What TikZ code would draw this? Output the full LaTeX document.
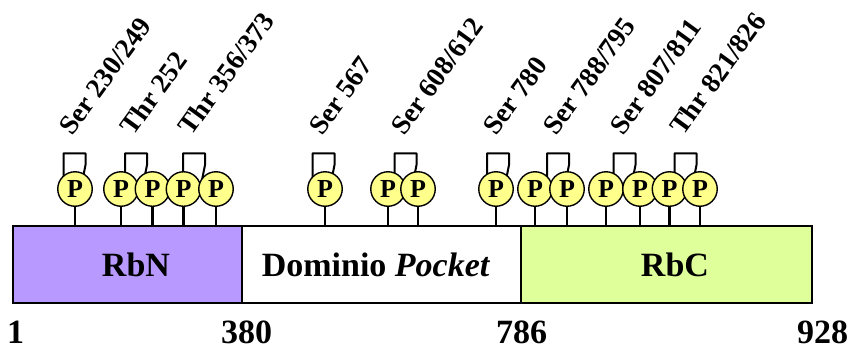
\documentclass[tikz,border=0pt]{standalone}
\usepackage{fontspec}
\setmainfont{Liberation Serif}
\definecolor{rbnfill}{RGB}{183,153,255}
\definecolor{rbcfill}{RGB}{222,255,153}
\definecolor{pfill}{RGB}{255,255,140}
\tikzset{
  dombox/.style={draw=black,line width=2pt,minimum height=76.5pt,inner sep=0pt,anchor=north west},
  pcirc/.style={circle,draw=black,fill=pfill,line width=1.4pt,minimum size=34.5pt,inner sep=0pt,font=\fontsize{26}{26}\selectfont\bfseries},
  stem/.style={line width=2.4pt},
  brk/.style={line width=2pt,line join=round},
  sitelab/.style={rotate=54,anchor=base west,inner sep=0pt,font=\fontsize{27.5}{27.5}\selectfont\bfseries},
  domlab/.style={anchor=base,inner sep=0pt,font=\fontsize{34}{34}\selectfont\bfseries},
  numlab/.style={anchor=base,inner sep=0pt,font=\fontsize{34}{34}\selectfont\bfseries}
}
\begin{document}
\begin{tikzpicture}[x=1pt,y=-1pt]
\useasboundingbox (0,0) rectangle (852,349);
% domain boxes
\node[dombox,fill=rbnfill,minimum width=229pt] (rbn) at (12,225) {};
\node[dombox,fill=white,minimum width=279pt] (pocket) at (241,225) {};
\node[dombox,fill=rbcfill,minimum width=291pt] (rbc) at (520,225) {};
\node[domlab] (trbn) at (136,276.7) {RbN};
\node[domlab] (tpocket) at (376,276.7) {Dominio \textit{Pocket}};
\node[domlab] (trbc) at (675,276.7) {RbC};
% numbers
\node[numlab] (n1) at (15.5,343) {1};
\node[numlab] (n380) at (246.7,343) {380};
\node[numlab] (n786) at (521.7,343) {786};
\node[numlab] (n928) at (822.5,343) {928};
% brackets (drawn first, circles cover the leg ends)
\foreach \c in {74.5,136,194,323.5,405.5,498,558,624.5,685.5}{
  \draw[brk] (\c-11,180) -- (\c-11,165) -- (\c-11,153.3) -- (\c+11,153.3) -- (\c+11,165) -- (\c+8,180);
}
% circles and stems
\foreach \x [count=\i] in {75,121,152.5,183.5,216,325,388,418,496,535,567,606,640,669.5,700}{
  \node[pcirc] (c\i) at (\x,189) {P};
  \draw[stem] (c\i.south) -- (c\i.south |- rbn.north);
}
% site labels
\node[sitelab] (l1) at (72,137) {Ser 230/249};
\node[sitelab] (l2) at (133.5,137) {Thr 252};
\node[sitelab] (l3) at (191.5,137) {Thr 356/373};
\node[sitelab] (l4) at (322,137) {Ser 567};
\node[sitelab] (l5) at (404,137) {Ser 608/612};
\node[sitelab] (l6) at (496.5,137) {Ser 780};
\node[sitelab] (l7) at (556.5,137) {Ser 788/795};
\node[sitelab] (l8) at (623,137) {Ser 807/811};
\node[sitelab] (l9) at (683,137) {Thr 821/826};
\end{tikzpicture}
\end{document}
